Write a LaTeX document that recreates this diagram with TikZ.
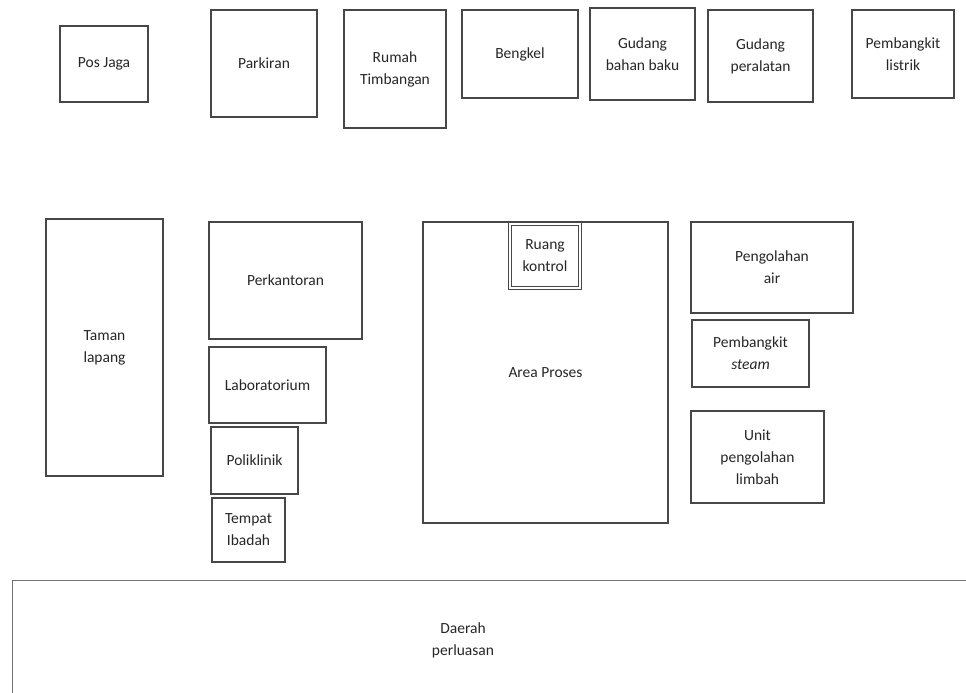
\documentclass[tikz,border=0pt]{standalone}
\usepackage{fontspec}
\setmainfont{Carlito}
\begin{document}
\begin{tikzpicture}[x=1pt,y=-1pt,
  box/.style={draw=black!72, line width=1.3pt, rectangle, inner sep=0pt, align=center,
    font=\fontsize{15.5}{22}\selectfont, text=black!85},
  txt/.style={inner sep=0pt, align=center, font=\fontsize{15.5}{22}\selectfont, text=black!85}]
\useasboundingbox[fill=white] (0,0) rectangle (966,693);
\begin{scope}
\clip (0,0) rectangle (966,693);
% top row
\node[box, minimum width=88, minimum height=76] (pos) at (104,64) {Pos Jaga};
\node[box, minimum width=106, minimum height=107] (parkir) at (264,63.5) {Parkiran};
\node[box, minimum width=102, minimum height=118] (timbang) at (395,69) {Rumah\\Timbangan};
\node[box, minimum width=116, minimum height=88] (bengkel) at (520,54) {Bengkel};
\node[box, minimum width=105, minimum height=92] (gbb) at (642.5,54) {Gudang\\bahan baku};
\node[box, minimum width=105, minimum height=92] (gper) at (760.5,56) {Gudang\\peralatan};
\node[box, minimum width=102, minimum height=88] (listrik) at (903,54) {Pembangkit\\listrik};
% left column
\node[box, minimum width=117, minimum height=257] (taman) at (104.5,347.5) {Taman\\lapang};
\node[box, minimum width=153, minimum height=117] (kantor) at (285.5,280.5) {Perkantoran};
\node[box, minimum width=117, minimum height=76] (lab) at (267.5,385) {Laboratorium};
\node[box, minimum width=87, minimum height=67] (poli) at (254.5,460.5) {Poliklinik};
\node[box, minimum width=73, minimum height=64] (ibadah) at (248.5,530) {Tempat\\Ibadah};
% process area
\node[box, minimum width=245, minimum height=301] (proses) at (545.5,372.5) {Area Proses};
\node[box, line width=0.9pt, double, double distance=1.8pt, minimum width=70, minimum height=64]
  (kontrol) at (545,256) {Ruang\\kontrol};
% right column
\node[box, minimum width=162, minimum height=91] (air) at (772,267.5) {Pengolahan\\air};
\node[box, minimum width=117, minimum height=67] (steam) at (750.5,353.5) {Pembangkit\\\textit{steam}};
\node[box, minimum width=133, minimum height=92] (limbah) at (757.5,457) {Unit\\pengolahan\\limbah};
% bottom
\node[box, draw=black!55, minimum width=1000, minimum height=150, anchor=north west] (daerah) at (12,580) {};
\node[txt] (daerahtxt) at (463,640) {Daerah\\perluasan};
\end{scope}
\end{tikzpicture}
\end{document}
